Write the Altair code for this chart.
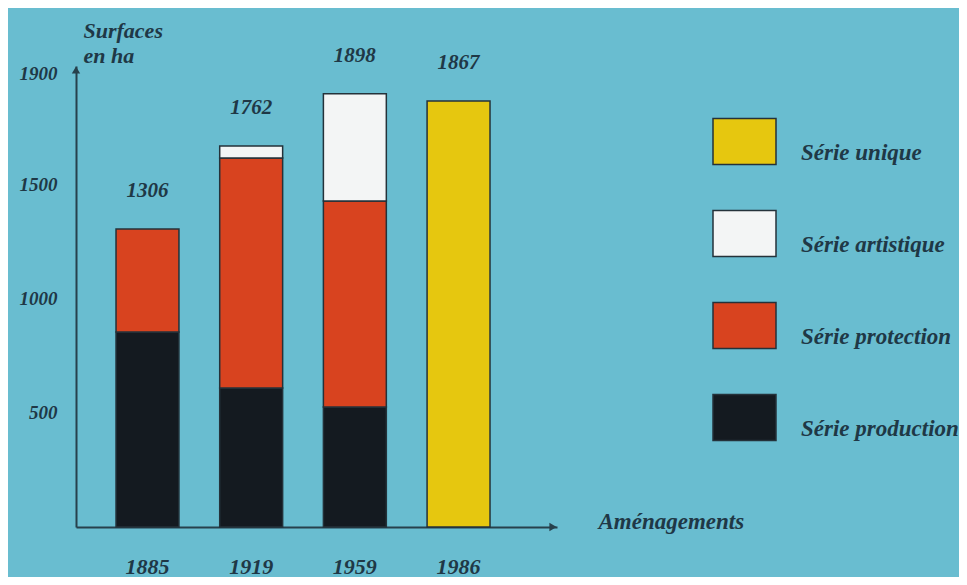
import altair as alt
import pandas as pd

# ---- data ----
years = ["1885", "1919", "1959", "1986"]
production = [854, 609, 526, 0]
protection = [452, 1008, 903, 0]
artistique = [0, 53, 469, 0]
unique = [0, 0, 0, 1867]
total_labels = ["1306", "1762", "1898", "1867"]
series_names = ["Série unique", "Série artistique", "Série protection", "Série production"]
series_colors = ["#e6c70f", "#f3f5f5", "#d8431f", "#141a20"]
y_ticks = [500, 1000, 1500, 1900]

FONT = "Liberation Serif"
TXT = "#1f3846"
AX = "#27414c"
BG = "#69bdd0"

rows = []
stack_def = [("Série production", production, 0), ("Série protection", protection, 1),
             ("Série artistique", artistique, 2), ("Série unique", unique, 3)]
for i, yr in enumerate(years):
    for name, vals, order in stack_def:
        if vals[i] > 0:
            rows.append({"year": yr, "serie": name, "value": vals[i], "order": order})
df = pd.DataFrame(rows)
tops = [production[i] + protection[i] + artistique[i] + unique[i] for i in range(len(years))]
lab = pd.DataFrame({"year": years, "top": tops, "label": total_labels})

xscale = alt.Scale(domain=years, paddingInner=0.393, paddingOuter=0.516, align=0.374)
yscale = alt.Scale(domain=[0, 2020], nice=False, zero=True)

x_axis = alt.Axis(
    title="Aménagements", labelAngle=0, ticks=False, grid=False,
    domainColor=AX, domainWidth=2,
    labelFont=FONT, labelFontSize=22, labelFontStyle="italic", labelFontWeight="bold",
    labelColor=TXT, labelPadding=29, labelBaseline="top",
    titleX=522, titleY=1, titleAlign="left", titleBaseline="alphabetic",
    titleFont=FONT, titleFontSize=23, titleFontStyle="italic", titleFontWeight="bold",
    titleColor=TXT)
y_axis = alt.Axis(
    values=y_ticks, format="d", ticks=False, grid=False, domainColor=AX, domainWidth=2,
    labelFont=FONT, labelFontSize=19, labelFontStyle="italic", labelFontWeight="bold",
    labelColor=TXT, labelPadding=19,
    labelOffset={"condition": {"test": "datum.value === 1900", "value": -20}, "value": 0},
    title=["Surfaces", "en ha"], titleAngle=0, titleAlign="left", titleBaseline="alphabetic",
    titleX=7, titleY=-29, titleFont=FONT, titleFontSize=22, titleFontStyle="italic",
    titleFontWeight="bold", titleLineHeight=25, titleColor=TXT)

bars = alt.Chart(df).mark_bar(stroke="#24323a", strokeWidth=1.5).encode(
    x=alt.X("year:N", scale=xscale, sort=years, axis=x_axis),
    y=alt.Y("value:Q", stack="zero", scale=yscale, axis=y_axis),
    color=alt.Color("serie:N", scale=alt.Scale(domain=series_names, range=series_colors),
                    legend=alt.Legend(
                        title=None, orient="none", legendX=636, legendY=43, padding=0,
                        symbolType="M-1,-0.73L1,-0.73L1,0.73L-1,0.73Z", symbolSize=3969,
                        symbolStrokeColor="#24323a", symbolStrokeWidth=1.5, symbolOpacity=1,
                        rowPadding=33, labelOffset=24, labelLimit=400,
                        labelFont=FONT, labelFontSize=23, labelFontStyle="italic",
                        labelFontWeight="bold", labelColor=TXT, labelBaseline="top")),
    order=alt.Order("order:Q"),
)

text = alt.Chart(lab).mark_text(dy=-38, font=FONT, fontSize=21, fontStyle="italic",
                                fontWeight="bold", color=TXT).encode(
    x=alt.X("year:N", scale=xscale, sort=years, axis=x_axis),
    y=alt.Y("top:Q", scale=yscale, axis=y_axis),
    text="label:N",
)

arrow_df = pd.DataFrame({"k": [0]})
arrow_x = alt.Chart(arrow_df).mark_point(shape="triangle-right", filled=True, size=70,
                                         color=AX, opacity=1).encode(
    x=alt.value(477), y=alt.value(461))
arrow_y = alt.Chart(arrow_df).mark_point(shape="triangle-up", filled=True, size=70,
                                         color=AX, opacity=1).encode(
    x=alt.value(0), y=alt.value(4))

chart = alt.layer(bars, text, arrow_x, arrow_y).properties(
    width=481, height=461,
    padding={"left": 68, "top": 58, "right": 402, "bottom": 50},
    autosize=alt.AutoSizeParams(type="none"),
    background=BG,
).configure_view(stroke=None)

chart.save("out.html", embed_options={"renderer": "svg", "actions": False})
